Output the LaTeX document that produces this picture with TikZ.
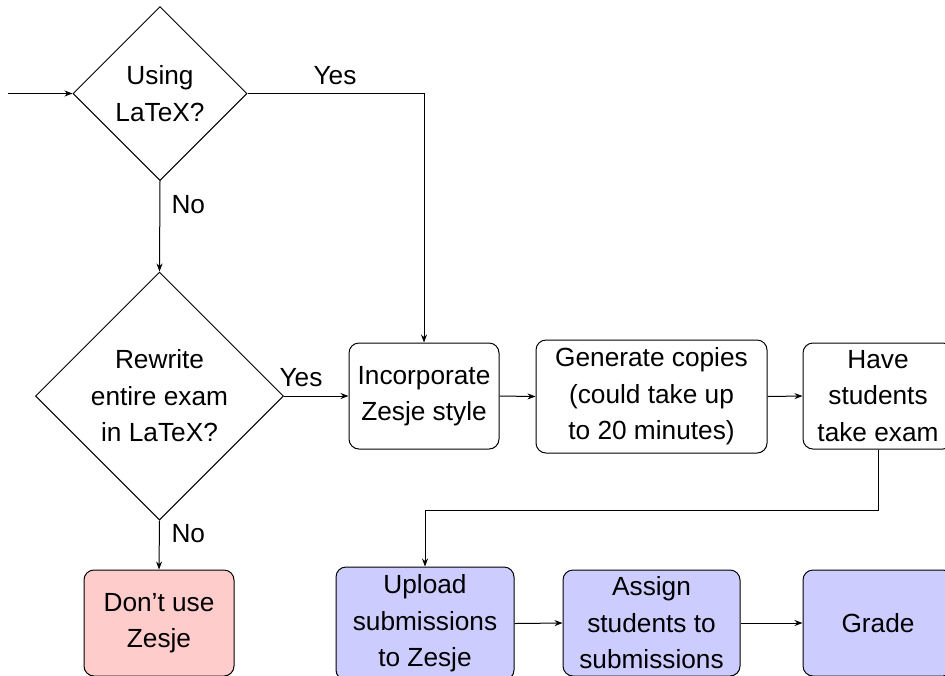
\documentclass[tikz,border=0pt]{standalone}
\usepackage{fontspec}
\setmainfont{Liberation Sans}
\usetikzlibrary{shapes.geometric,arrows.meta,calc}
\definecolor{nofill}{RGB}{255,204,204}
\definecolor{procfill}{RGB}{204,204,255}
\begin{document}
\begin{tikzpicture}[x=0.4pt,y=-0.4pt,
  font=\fontsize{10.5}{14.6}\selectfont,
  every node/.style={align=center},
  decision/.style={diamond,draw,inner sep=0pt,minimum width=#1,minimum height=#1},
  procbox/.style={draw,rounded corners=4pt,minimum width=60pt,minimum height=42.4pt,inner sep=1pt},
  conn/.style={-{Stealth[length=3.2pt,width=2.4pt]},line width=0.4pt},
  lbl/.style={inner sep=0pt}
]
\useasboundingbox (0,0) rectangle (945,675);
\clip (0,0) rectangle (945,675);

\node[decision=69.6pt] (d1) at (160,93.5) {Using\\LaTeX?};
\node[decision=99.2pt] (d2) at (159.5,396) {Rewrite\\entire exam\\in LaTeX?};

\node[procbox] (inc) at (424,396) {Incorporate\\Zesje style};
\node[procbox,minimum width=92.4pt,minimum height=45.2pt] (gen) at (651.5,396.5) {Generate copies\\(could take up\\to 20 minutes)};
\node[procbox] (have) at (878,396) {Have\\students\\take exam};

\node[procbox,fill=nofill] (dont) at (159,623) {Don’t use\\Zesje};
\node[procbox,fill=procfill,minimum width=71.2pt,minimum height=45.2pt] (up) at (425,623.5) {Upload\\submissions\\to Zesje};
\node[procbox,fill=procfill,minimum width=70.8pt] (asg) at (651.5,623) {Assign\\students to\\submissions};
\node[procbox,fill=procfill] (grd) at (878,623) {Grade};

\coordinate (start) at (8,93.5);
\coordinate (bendy) at (0,510);

\draw[conn] (start) -- (d1.west);
\draw[conn] (d1.east) -| (inc.north);
\node[lbl] (yes1) at (335,76) {Yes};
\draw[conn] (d1.south) -- (d2.north);
\node[lbl,anchor=west] (no1) at (171,205) {No};
\draw[conn] (d2.east) -- (inc.west);
\node[lbl] (yes2) at (301,378) {Yes};
\draw[conn] (d2.south) -- (dont.north);
\node[lbl,anchor=west] (no2) at (171,534) {No};
\draw[conn] (inc.east) -- (gen.west);
\draw[conn] (gen.east) -- (have.west);
\draw[conn] (have.south) -- (have.south |- bendy) -| (up.north);
\draw[conn] (up.east) -- (asg.west);
\draw[conn] (asg.east) -- (grd.west);
\end{tikzpicture}
\end{document}
